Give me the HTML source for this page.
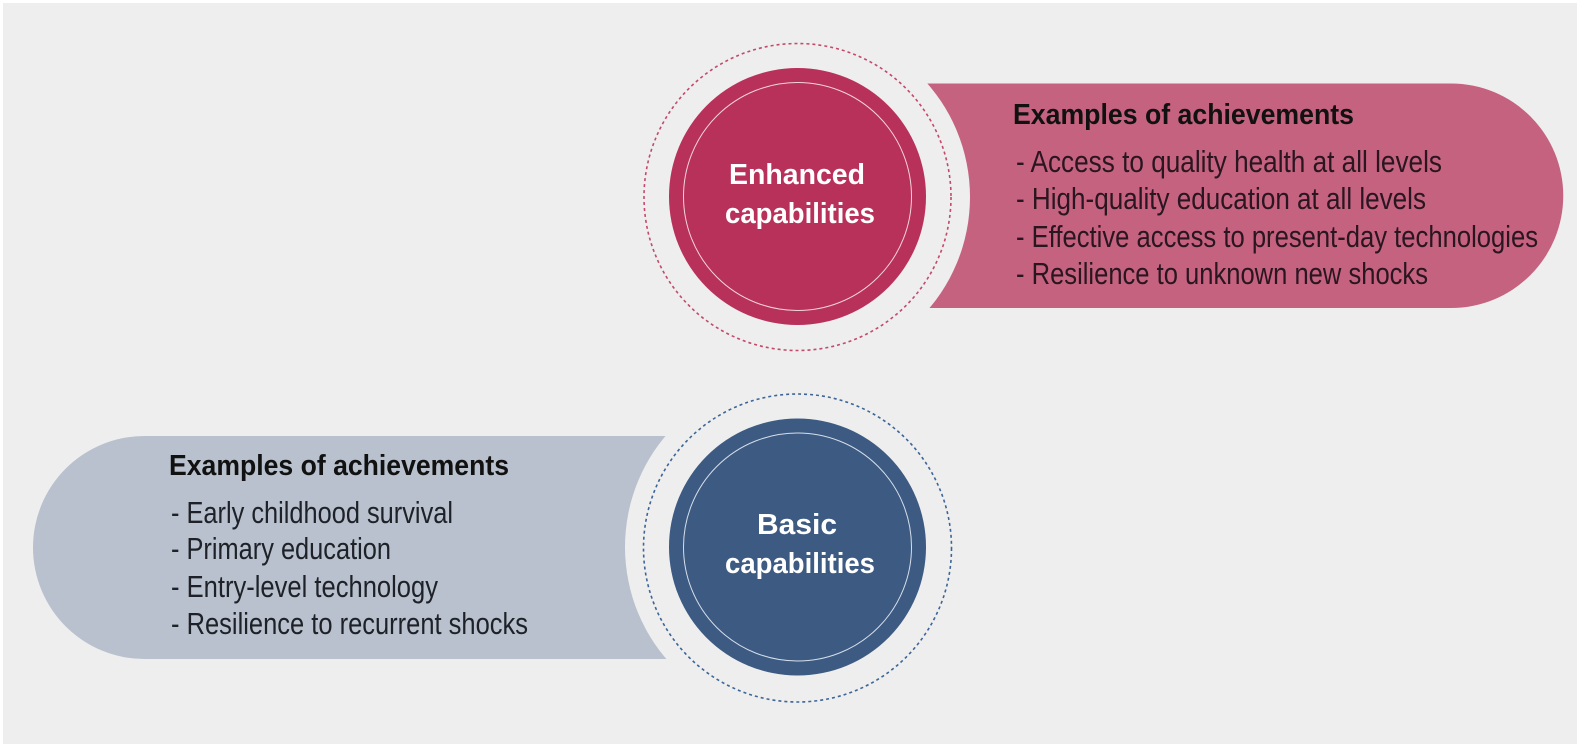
<!DOCTYPE html>
<html><head><meta charset="utf-8"><style>
html,body{margin:0;padding:0;background:#fff;}
svg{display:block;}
text{font-family:"Liberation Sans Narrow","Liberation Sans",sans-serif;}
</style></head><body>
<svg width="1577" height="744" viewBox="0 0 1577 744" xmlns="http://www.w3.org/2000/svg">
<rect x="3" y="3" width="1574" height="741" fill="#eeeeee"/>
<!-- top pill -->
<path d="M900 83.5 H1451 A112.25 112.25 0 0 1 1451 308 H900 Z" fill="#c5627f"/>
<circle cx="797.5" cy="197" r="172.5" fill="#eeeeee"/>
<circle cx="797.5" cy="197" r="153.5" fill="none" stroke="#c24a6c" stroke-width="1.6" stroke-dasharray="3 3"/>
<circle cx="797.5" cy="196.5" r="128.5" fill="#b8315a"/>
<circle cx="797.5" cy="196.5" r="114" fill="none" stroke="#f3d4dc" stroke-width="1"/>
<text x="797" y="184" text-anchor="middle" font-weight="bold" font-size="29" fill="#fff" textLength="136" lengthAdjust="spacingAndGlyphs">Enhanced</text>
<text x="800" y="223" text-anchor="middle" font-weight="bold" font-size="29" fill="#fff" textLength="150" lengthAdjust="spacingAndGlyphs">capabilities</text>
<g fill="#2a1620" font-size="31">
<text x="1013" y="124" font-weight="bold" font-size="29" fill="#111" textLength="341" lengthAdjust="spacingAndGlyphs">Examples of achievements</text>
<text x="1016" y="172" textLength="426" lengthAdjust="spacingAndGlyphs">- Access to quality health at all levels</text>
<text x="1016" y="209" textLength="410" lengthAdjust="spacingAndGlyphs">- High-quality education at all levels</text>
<text x="1016" y="247" textLength="522" lengthAdjust="spacingAndGlyphs">- Effective access to present-day technologies</text>
<text x="1016" y="284" textLength="412" lengthAdjust="spacingAndGlyphs">- Resilience to unknown new shocks</text>
</g>
<!-- bottom pill -->
<path d="M700 436 H144.5 A111.5 111.5 0 0 0 144.5 659 H700 Z" fill="#b8c1cd"/>
<circle cx="797.5" cy="547" r="172.5" fill="#eeeeee"/>
<circle cx="797.5" cy="548" r="154" fill="none" stroke="#3d6597" stroke-width="1.6" stroke-dasharray="3 3"/>
<circle cx="797.5" cy="547" r="128.5" fill="#3c5a82"/>
<circle cx="797.5" cy="547" r="114" fill="none" stroke="#d6dfea" stroke-width="1"/>
<text x="797" y="534" text-anchor="middle" font-weight="bold" font-size="29" fill="#fff" textLength="80" lengthAdjust="spacingAndGlyphs">Basic</text>
<text x="800" y="573" text-anchor="middle" font-weight="bold" font-size="29" fill="#fff" textLength="150" lengthAdjust="spacingAndGlyphs">capabilities</text>
<g fill="#1e2228" font-size="31">
<text x="169" y="475" font-weight="bold" font-size="29" fill="#111" textLength="340" lengthAdjust="spacingAndGlyphs">Examples of achievements</text>
<text x="171" y="523" textLength="282" lengthAdjust="spacingAndGlyphs">- Early childhood survival</text>
<text x="171" y="559" textLength="220" lengthAdjust="spacingAndGlyphs">- Primary education</text>
<text x="171" y="597" textLength="267" lengthAdjust="spacingAndGlyphs">- Entry-level technology</text>
<text x="171" y="634" textLength="357" lengthAdjust="spacingAndGlyphs">- Resilience to recurrent shocks</text>
</g>
</svg>
</body></html>
